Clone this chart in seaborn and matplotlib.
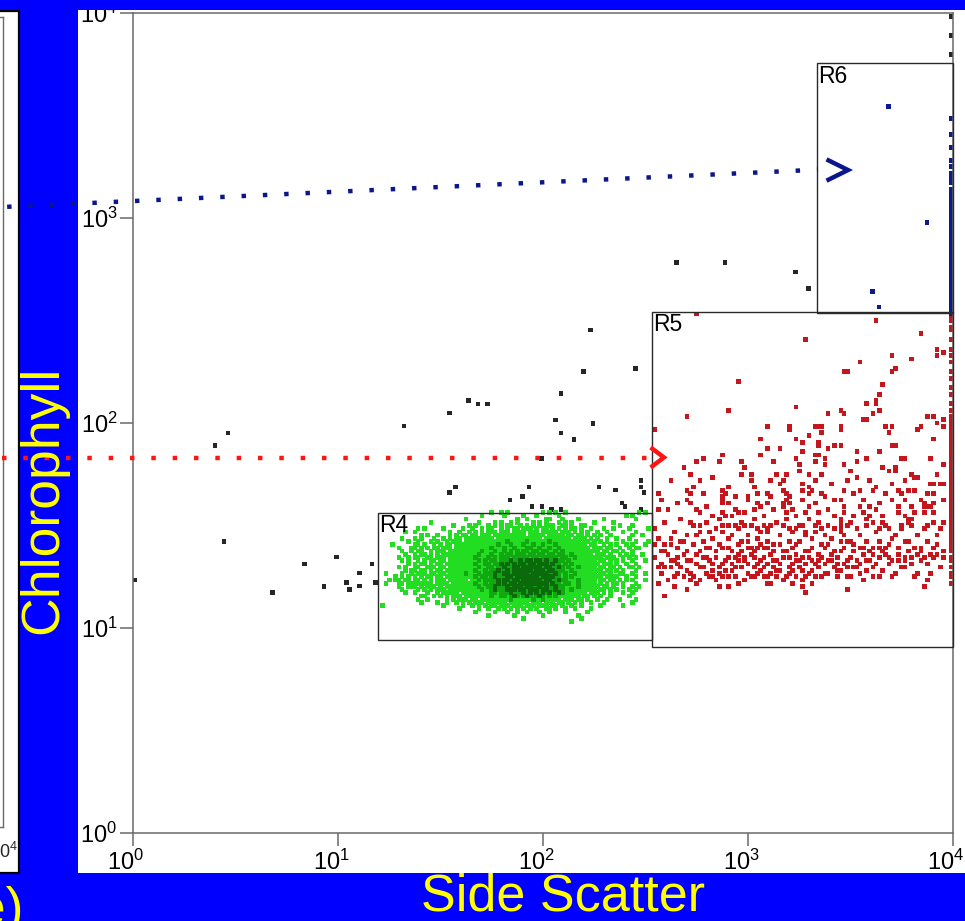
import numpy as np
import pandas as pd
import matplotlib
matplotlib.use("Agg")
import matplotlib.pyplot as plt
from matplotlib.patches import Rectangle
from matplotlib.lines import Line2D
from matplotlib.ticker import NullLocator, FixedLocator
import matplotlib.transforms as mtransforms
import seaborn as sns

sns.set_style("white")
plt.rcParams["font.family"] = ["Liberation Sans", "DejaVu Sans"]
plt.rcParams["mathtext.fontset"] = "custom"
plt.rcParams["mathtext.rm"] = "Liberation Sans"
plt.rcParams["mathtext.it"] = "Liberation Sans:italic"
plt.rcParams["mathtext.bf"] = "Liberation Sans:bold"

# ---------------- data (instrument channels: 64 channels per decade) ----------------
CH_PER_DECADE = 64
EDGE_CH = 255.4          # events piled on the last side-scatter channel

x_label = "Side Scatter"
y_label = "Chlorophyll"
panel_tag = "(e)"
tick_values = [1, 10, 100, 1000, 10000]

# gates: (ssc_min, ssc_max, chl_min, chl_max)
gate_names = ["R4", "R5", "R6"]
gate_bounds = [(15.6, 340, 8.74, 36.5), (340, 10000, 8.11, 349), (2163, 10000, 345, 5688)]

# arrows (log10 coordinates): dotted tail start/end and chevron
blue_arrow_line = [(-0.614, 3.0546), (3.3415, 3.2356)]
blue_arrow_head = [(3.383, 3.286), (3.488, 3.234), (3.383, 3.182)]
red_arrow_line = [(-0.640, 1.8293), (2.507, 1.8293)]
red_arrow_head = [(2.525, 1.881), (2.590, 1.832), (2.525, 1.783)]

# ungated (black) events: (ssc channel, chl channel)
black_ch = [(0.5, 79.0), (25.6, 120.9), (29.7, 124.9), (28.4, 90.9), (43.6, 75.0), (53.6, 84.0),
            (59.6, 76.9), (63.5, 86.2), (66.6, 78.1), (67.6, 76.0), (70.7, 81.2), (70.7, 77.1),
            (74.6, 84.0), (75.7, 78.1), (84.6, 127.1), (98.7, 131.1), (104.7, 135.0), (107.7, 133.9),
            (110.7, 133.9), (133.6, 137.1), (131.8, 128.9), (133.6, 124.9), (137.7, 122.9),
            (143.6, 127.9), (127.6, 116.9), (98.7, 106.2), (100.7, 108.0), (123.6, 108.0),
            (117.7, 104.0), (121.6, 105.0), (124.6, 101.9), (127.7, 101.9), (130.7, 100.9),
            (133.6, 100.9), (145.5, 108.0), (150.7, 107.1), (152.7, 103.0), (153.6, 101.9),
            (158.6, 110.0), (158.6, 108.0), (159.5, 106.2), (158.6, 100.9), (169.7, 178.1),
            (184.8, 178.1), (206.9, 175.1), (210.8, 170.1), (142.8, 157.0), (140.7, 144.0),
            (156.8, 145.1)]
black_edge_chl = [255, 249, 243]

# R6 (blue) events
blue_ch = [(235.9, 226.7), (247.9, 190.7), (230.9, 169.1), (232.9, 164.2)]
blue_edge_chl = [223, 218, 214, 210, 208, 206, 205, 204, 203,
                 201, 200, 199, 198, 197, 196, 195, 194, 193, 192, 191, 190, 189, 188, 187,
                 186, 185, 184, 183, 182, 181, 180, 179, 178, 177, 176, 175, 174, 173, 172,
                 171, 170, 169, 168, 167, 166, 165, 164, 163, 162]

# R5 (red) events
red_ch = [
    (176, 162), (232, 160), (246, 156), (210, 154), (251, 151), (253, 150), (251, 149), (243, 148),
    (227, 147), (237, 149), (238, 145), (237, 144), (222, 144), (223, 144), (189, 141), (234, 140),
    (233, 137), (232, 135), (232, 134), (229, 134), (207, 133), (186, 132), (221, 132), (233, 132),
    (222, 131), (217, 131), (231, 131), (173, 130), (248, 130), (250, 130), (228, 129), (229, 129),
    (253, 129), (251, 128), (163, 126),
    (198, 127), (205, 127), (205, 126), (213, 127), (214, 127), (215, 127), (221, 127), (235, 127),
    (237, 127), (245, 126), (246, 127), (253, 127), (221, 126), (215, 125), (236, 125), (211, 124),
    (196, 123), (207, 123), (250, 123), (209, 122), (214, 122), (214, 121), (219, 121), (221, 121),
    (237, 121), (238, 121), (198, 120), (202, 120), (217, 120),
    (184, 118), (190, 116), (196, 118), (207, 117), (209, 119), (213, 118), (214, 118), (226, 119),
    (233, 119), (240, 117), (241, 117), (249, 117), (253, 115), (178, 117), (176, 116), (213, 116),
    (216, 115), (222, 115), (226, 116), (238, 114),
    (174, 112), (190, 112), (193, 112), (201, 112), (204, 112), (208, 113), (211, 112), (215, 112),
    (224, 113), (226, 111), (230, 110), (236, 113), (238, 113), (245, 111), (249, 109),
    (177, 110), (193, 110), (199, 110), (202, 109), (209, 109), (213, 110), (218, 109), (237, 109),
    (241, 110), (244, 111), (250, 109), (252, 109), (253, 109),
    (164, 106), (173, 107), (174, 106), (178, 106), (184, 107), (184, 105), (185, 106), (188, 105),
    (192, 105), (195, 106), (198, 106), (199, 105), (203, 107), (204, 106), (205, 105), (209, 107),
    (211, 106), (212, 107), (215, 106), (216, 105), (222, 107), (225, 106), (227, 107), (231, 107),
    (235, 106), (239, 107), (240, 106), (242, 107), (244, 107), (248, 106), (250, 106),
    (173, 104), (174, 103), (184, 104), (184, 103), (186, 103), (192, 104), (195, 103), (198, 103),
    (203, 103), (204, 104), (205, 103), (209, 104), (211, 102), (213, 103), (221, 104), (222, 102),
    (228, 104), (230, 102), (233, 103), (237, 104), (241, 104), (243, 102), (247, 103), (248, 102),
    (250, 103),
    (164, 101), (167, 101), (176, 101), (177, 100), (181, 99), (184, 100), (185, 99), (187, 99),
    (189, 100), (191, 100), (194, 101), (197, 99), (200, 101), (203, 102), (204, 100), (207, 99),
    (210, 100), (211, 98), (214, 100), (217, 101), (219, 99), (221, 98), (222, 100), (225, 99),
    (228, 100), (230, 99), (232, 101), (234, 99), (239, 100), (241, 99), (242, 98), (244, 100),
    (247, 102), (247, 100), (249, 102), (250, 100),
    (174, 97), (177, 96), (182, 95), (184, 96), (186, 96), (188, 96), (190, 97), (191, 96),
    (193, 96), (195, 95), (197, 96), (198, 94), (198, 95), (201, 97), (203, 96), (205, 95),
    (207, 95), (208, 96), (210, 94), (213, 96), (215, 95), (217, 96), (221, 97), (221, 96),
    (221, 95), (221, 94), (223, 96), (226, 95), (229, 96), (231, 97), (233, 95), (235, 96),
    (236, 95), (240, 96), (242, 97), (243, 98), (243, 96), (247, 95), (250, 97), (252, 95),
    (164, 92), (168, 92), (165, 88), (166, 88), (176, 93), (177, 94), (181, 92), (184, 94),
    (184, 89), (186, 92), (189, 90), (190, 91), (193, 89), (195, 92), (196, 90), (198, 91),
    (198, 89), (202, 90), (205, 91), (206, 89), (208, 91), (210, 93), (213, 94), (215, 90),
    (217, 90), (218, 92), (221, 91), (223, 91), (225, 90), (229, 91), (231, 89), (233, 91),
    (235, 89), (237, 92), (241, 91), (244, 89), (248, 91), (250, 89), (253, 88),
    (168, 85), (169, 85), (172, 87), (174, 85), (176, 87), (177, 88), (179, 86), (180, 85),
    (182, 86), (183, 83), (184, 84), (186, 86), (188, 86), (190, 88), (191, 86), (193, 87),
    (195, 84), (197, 86), (199, 87), (201, 85), (203, 86), (205, 86), (207, 85), (209, 86),
    (211, 86), (213, 84), (215, 86), (217, 85), (220, 86), (222, 84), (224, 86), (226, 85),
    (228, 87), (231, 87), (233, 86), (235, 87), (237, 85), (241, 86), (245, 87), (247, 86),
    (249, 87), (253, 86),
    (164, 83), (166, 83), (168, 83), (169, 80), (171, 83), (173, 82), (175, 80), (177, 83),
    (179, 81), (181, 82), (183, 81), (186, 80), (187, 82), (190, 83), (192, 81), (194, 83),
    (196, 82), (198, 80), (200, 83), (202, 82), (204, 80), (206, 82), (208, 83), (210, 80),
    (212, 82), (215, 80), (219, 83), (221, 82), (223, 83), (225, 83), (227, 81), (229, 82),
    (231, 83), (241, 85), (241, 83),
    (166, 90), (170, 89), (172, 91), (175, 90), (178, 91), (180, 89), (183, 90), (187, 88),
    (189, 87), (192, 89), (194, 88), (197, 89), (200, 88), (204, 88), (207, 87), (210, 88),
    (212, 89), (214, 87), (216, 89), (219, 88), (222, 89), (225, 88), (227, 89), (230, 88),
    (234, 88), (236, 90), (239, 89), (242, 88), (246, 89), (251, 90),
    (163, 86), (167, 87), (170, 84), (173, 85), (176, 84), (178, 83), (181, 84), (185, 85),
    (187, 84), (189, 85), (192, 84), (194, 86), (196, 85), (198, 84), (200, 85), (202, 84),
    (206, 84), (208, 85), (210, 84), (212, 85), (214, 83), (216, 84), (218, 85), (220, 84),
    (223, 85), (227, 84), (230, 85), (232, 84), (236, 84), (239, 85), (243, 84), (246, 85),
    (250, 86),
    (165, 81), (167, 79), (170, 81), (172, 80), (174, 79), (177, 79), (180, 80), (182, 79),
    (184, 80), (188, 80), (191, 79), (193, 80), (195, 81), (197, 80), (199, 81), (201, 80),
    (203, 79), (205, 81), (207, 80), (209, 79), (211, 81), (213, 80), (217, 81), (220, 80),
    (224, 80), (228, 79), (233, 80), (238, 81), (244, 80), (248, 79),
    (166, 74), (173, 76), (186, 77), (198, 78), (209, 77), (210, 75), (223, 76), (247, 77),
    # additional events in the populated lower part of R5
    (163, 95), (166, 97), (169, 94), (171, 98), (173, 93), (175, 96), (179, 97), (180, 94),
    (183, 98), (187, 93), (189, 95), (192, 93), (194, 98), (196, 94), (199, 96), (202, 93),
    (204, 98), (206, 94), (209, 96), (212, 92), (214, 97), (216, 93), (219, 95), (222, 93),
    (224, 97), (227, 93), (229, 98), (232, 94), (234, 97), (238, 93), (240, 95), (245, 93),
    (248, 96), (251, 93), (253, 97),
    (163, 90), (164, 78), (165, 84), (168, 90), (169, 77), (170, 86), (171, 91), (173, 88),
    (174, 81), (176, 78), (178, 86), (179, 89), (181, 80), (182, 88), (183, 77), (185, 82),
    (186, 89), (188, 83), (189, 78), (191, 85), (192, 91), (194, 80), (195, 89), (197, 83),
    (199, 78), (200, 90), (201, 82), (203, 88), (205, 83), (206, 78), (207, 90), (209, 82),
    (211, 88), (212, 78), (214, 85), (216, 81), (217, 90), (218, 87), (220, 82), (221, 88),
    (223, 80), (224, 91), (226, 83), (228, 89), (229, 85), (231, 80), (233, 89), (234, 82),
    (236, 86), (237, 80), (239, 87), (240, 83), (242, 91), (243, 86), (245, 81), (246, 88),
    (248, 84), (249, 81), (251, 87), (252, 83),
    (165, 104), (168, 110), (170, 103), (172, 114), (175, 108), (179, 102), (181, 111),
    (183, 116), (186, 108), (188, 101), (191, 114), (194, 108), (196, 102), (200, 116),
    (203, 110), (206, 101), (208, 115), (211, 108), (216, 117), (219, 104), (223, 110),
    (227, 102), (229, 117), (232, 108), (234, 114), (239, 102), (243, 112), (246, 104),
    (251, 112), (253, 104),
]
red_edge_chl = [161, 160, 158, 157, 154, 151, 149, 147, 144, 142, 139, 137, 134, 132,
                130, 129, 128, 127, 126, 125, 124, 123, 122, 121, 120, 119, 118, 117, 116,
                115, 114, 113, 112, 111, 110, 109, 108, 107, 106, 105, 104, 103, 102, 101,
                100, 99, 98, 97, 96, 95, 94, 93, 92, 91, 90, 89, 88,
                86, 85, 83, 81, 80, 78]

# R4 (green) events as a channel dot map: one row per chl channel (from GREEN_TOP down),
# one character per ssc channel (from GREEN_X0); g = single event, m/d = denser pile-up
GREEN_X0 = 78
GREEN_TOP = 100
green_rows = [
    "..... ..... ... ..... ..... ..... ..... .g..g .g... ..... ..g.g .g..g ..... ..... ..... ..... .. g.g..",
    "..... ..... ... ..... ..... ..... ...g. ..... g.... .g... g.... ..g.. ..... ..... ..... ...g. g. .....",
    "..... ..... ... ..... ..... ...g. ..... ..... ....g ..g.. ...gg ...g. ...g. ..... .g... ..... .g .....",
    "..... ..... ... ..g.. ..... ..... ..g.. ..g.g ..g.g ....g .g.g. ..g.g .g... ...g. ....g ..... .. .....",
    "..... ..... ... ..... ....g ....g .g... g.g.g .gg.. g.g.g .g.gg g..gg .g..g g.... ..... .g... g. .....",
    "..... ..... .g. g.... .g... ..g.. g..g. gg..g .g.gg .ggg. g.gg. g.g.g .gg.g ..g.. .g..g ....g .. ...g.",
    "..... ..g.. g.. ..... ...g. .g..g .g.g. ggg.g gg.gg gg.gg g.ggg gg.gg g.g.g .g..g ..g.. ..g.. .g .....",
    "..... ..... ..g .g..g ...g. g.gg. gg.gg g.ggg ggggg gg.gg ggg.g gggg. gg.gg .g.g. g..g. ..... g. .g...",
    "..... .g... g.g ...g. .g.g. gg.gg ggggg gg.gg ggggg ggggg gg.gg ggggg g.ggg g.g.g ..g.. g...g .. .....",
    "..... ...g. .g. ..g.g ..g.g gg.gg ggggg ggggg gmggg ggmgg ggggm ggggg gggg. gg.g. g.g.. ..g.. .g ...g.",
    "...g. ..... gg. g..g. g.gg. ggggg ggggg gggmg ggmgg gmggm ggmgg gmggg ggggg g.gg. .g.g. g..g. g. ..g..",
    "..... g...g g.g .g.gg .ggg. ggggg ggggg gmggg mggmg ggmmg gmggm ggmgg ggggg gg.gg g.gg. .g..g .g g....",
    "..... .g..g .gg ..g.g gg.gg ggggg gggmg ggmgg mgmgm gmmgm mgmmg gmgmg ggggg ggggg .gg.g g.g.. g. .....",
    "..... ..g.. g.g g.g.g .gggg ggggg ggmgg gmggm gmmgm mmgmm gmmgm mgmmg gmggg ggg.g gg.g. .g.g. g. .g...",
    "..... g..g. gg. .gg.g gg.gg ggggg gmggg mgmgm mmgmm mmmgm mgmmm mmgmm ggmgg ggggg g.ggg ..g.g .g .....",
    "..... .g.g. .g. g.gg. gg.gg ggggg ggmgm gmmgm mmdmm dmddm ddmdm mdmmg mgggg gggg. gg.g. g.g.. g. ..g..",
    "..... ...g. g.g g.g.g g.ggg ggggg gmggm mgmmd mdmdm ddmdd mdddm dmmgm gmggg ggggg .ggg. g..g. .g .....",
    "..... g.g.. gg. .ggg. gg.gg ggggg ggmgg mmgmm dmmdd mdddd ddmdd mmdmg mggmg gggg. gg.gg .g..g g. g....",
    "..... ..g.g g.g g.g.g g.ggg ggggg gmggm gmmdm mdmdd ddddm dddmd dmmmg gmggg ggggg g.gg. g.g.. .g .....",
    ".g... .g..g .gg g.gg. gg.gg gggmg ggmgm mmdmm ddmdd dddmd ddddm mdmgm ggmgg gggg. gg.g. .gg.. g. ..g..",
    "....g .g.g. g.g .gg.g g.ggg ggggg gmgmm gmdmm mddmd ddddd dmddd dmmgm gmggg ggggg g.ggg g..g. .g .....",
    "..g.g g.gg. gg. g.g.g gg.gg gggg. ggmgm mmmdm ddmdd mdddd ddmdd mmdmm gggmg gggg. gg.gg .g.g. g. ..g..",
    ".g... gg.gg ggg ggg.g ggg.g ggggg gmggm gmmdm dmddm ddddd ddddm dmmgm mggmg gggg. g.g.g g.g.. .g .....",
    "..... g..gg g.g .ggg. g.ggg ggggg ggmgg mmdmm mdmdd dmddm mdmdm mdmmg gggmg ggggg .gg.g ..g.. g. g....",
    "..... .g... .g. g.g.g gg.gg ggggg gggmg gmdmm mdddm ddmdd dmddm mdmmg gmggg gggg. gg.g. g...g .g .....",
    "..... ..g.. g.. .g..g .gggg g.ggg ggggg gmmgm mmdmm mdmdm dmdmd gmdmg ggggg g.ggg .g.g. ..g.. g. .....",
    "..... ..... ..g g..g. g.g.g gg.gg ggggg gmggm mgmdm gmdmg mdmgm gmggg gggg. gg.g. g..g. ....g .. .....",
    "..... ..... .g. .g... ..g.g .ggg. gg.gg ggggg ggmgg ggggm ggmgg ggg.g gg.gg .g..g ..g.. .g... .g .....",
    "..... ..... ..g ....g ..g.. g.g.g .ggg. ggggg g.ggg ggg.g gg.gg g.gg. g.g.g ..g.. .g... ..... g. .....",
    "g.... ..... ... ..... .g... ..g.. g.g.g .gg.g gg.gg g.ggg .ggg. gg.g. .g..g ..... g.... ..g.. .. .....",
    "..... ..... ... ..... ..... .g... ..g.. g..g. g.g.g .g.g. g..gg .g..g ..g.. ..g.. ..... ..... .. .....",
    "..... ..... ... ..... ..... ..... .g... ..g.. .g..g ..g.. .g..g ....g ..... .g... ..... ..... .. .....",
    "..... ..... ... ..... ..... ..... ..... g.... ...g. ..... ..g.. ..... ...g. ..... ..... ..... .. .....",
    "..... ..... ... ..... ..... ..... ..... ..... ..... .g... ..... ..... ....g ..... ..... ..... .. .....",
    "..... ..... ... ..... ..... ..... ..... ..... ..... ..... ..... ..... .g... ..... ..... ..... .. .....",
]

palette = {"black": "#262626", "red": "#c4161c", "blue": "#0b1a8e",
           "g": "#22dd22", "m": "#12a812", "d": "#0b6a0b"}

# ---------------- assemble events ----------------
def ch2val(ch):
    return 10.0 ** (np.asarray(ch, dtype=float) / CH_PER_DECADE)

rows = []
rows += [(a, b, "black") for a, b in black_ch]
rows += [(EDGE_CH, b, "black") for b in black_edge_chl]
rows += [(a, b, "red") for a, b in red_ch]
rows += [(EDGE_CH, b, "red") for b in red_edge_chl]
rows += [(a, b, "blue") for a, b in blue_ch]
rows += [(EDGE_CH, b, "blue") for b in blue_edge_chl]
green = []
for r, line in enumerate(green_rows):
    for i, c in enumerate(line.replace(" ", "")):
        if c != ".":
            green.append((GREEN_X0 + i, GREEN_TOP - r, c))
order = {"g": 0, "m": 1, "d": 2}
green.sort(key=lambda t: order[t[2]])
rows += green

df = pd.DataFrame(rows, columns=["ssc_ch", "chl_ch", "pop"])
df["ssc"] = ch2val(df["ssc_ch"])
df["chl"] = ch2val(df["chl_ch"])

# ---------------- figure ----------------
W, H = 965, 921
fig = plt.figure(figsize=(W / 100, H / 100), dpi=100, facecolor="#0000ff")

def fx(px):
    return px / W

def fy(py):
    return 1 - py / H

# white panels (main and the neighbouring panel on the left)
fig.add_artist(Rectangle((fx(78), fy(873)), fx(W - 78 + 10), (873 - 10) / H,
                         transform=fig.transFigure, facecolor="white", edgecolor="none", zorder=-2))
fig.add_artist(Rectangle((fx(-10), fy(873)), fx(29), (873 - 11) / H,
                         transform=fig.transFigure, facecolor="white", edgecolor="black",
                         linewidth=1.6, zorder=-2))

# neighbouring panel's axes (only its right/bottom corner is visible)
axl = fig.add_axes([fx(3.3) - 0.8, fy(827), 0.8, (827 - 17) / H])
axl.set_xscale("log")
axl.set_yscale("log")
axl.set_xlim(1, 1e4)
axl.set_ylim(1, 1e4)
axl.patch.set_visible(False)
axl.spines["left"].set_visible(False)
for s in ["right", "bottom", "top"]:
    axl.spines[s].set_color("#6a6a6a")
    axl.spines[s].set_linewidth(1.0)
axl.xaxis.set_major_locator(FixedLocator([1e4]))
axl.xaxis.set_minor_locator(NullLocator())
axl.yaxis.set_major_locator(FixedLocator([]))
axl.yaxis.set_minor_locator(NullLocator())
axl.tick_params(axis="x", direction="out", length=9, width=1.0, color="#6a6a6a",
                labelsize=13, pad=2)

# main axes
ax = fig.add_axes([fx(133), fy(833), 820 / W, 820 / H])
ax.set_xscale("log")
ax.set_yscale("log")
sns.scatterplot(data=df, x="ssc", y="chl", hue="pop", palette=palette, marker="s",
                s=11.5, linewidth=0, legend=False, ax=ax, zorder=2)
ax.set_xlim(1, 1e4)
ax.set_ylim(1, 1e4)
ax.set_xlabel("")
ax.set_ylabel("")
ax.set_facecolor("white")
ax.grid(False)
for s in ax.spines.values():
    s.set_color("#6a6a6a")
    s.set_linewidth(1.1)
    s.set_visible(True)
ax.set_xticks(tick_values)
ax.set_yticks(tick_values)
ax.xaxis.set_minor_locator(NullLocator())
ax.yaxis.set_minor_locator(NullLocator())
ax.tick_params(axis="both", which="major", direction="out", length=9.2, width=1.1,
               color="#6a6a6a", labelsize=17, labelcolor="black", bottom=True, left=True)
ax.tick_params(axis="y", pad=2.0)
ax.tick_params(axis="x", pad=3.0)
shift = mtransforms.ScaledTranslation(-7 / 100, 0, fig.dpi_scale_trans)
for t in ax.xaxis.get_major_ticks():
    t.label1.set_transform(t.label1.get_transform() + shift)

# gates
for name, (x0, x1, y0, y1) in zip(gate_names, gate_bounds):
    ax.add_patch(Rectangle((x0, y0), x1 - x0, y1 - y0, fill=False, edgecolor="#2a2a2a",
                           linewidth=1.0, zorder=3, clip_on=False))
    ax.annotate(name, xy=(x0, y1), xytext=(1.2, -1.2), textcoords="offset points",
                ha="left", va="top", fontsize=16.5, color="black", zorder=4)

# dotted arrows linking from the neighbouring panel
def add_arrow(line_pts, head_pts, color):
    lx = [10 ** p[0] for p in line_pts]
    ly = [10 ** p[1] for p in line_pts]
    ln = Line2D(lx, ly, color=color, linewidth=3.2, linestyle=(0, (1, 3.8)),
                dash_capstyle="butt", clip_on=False, zorder=6)
    ax.add_line(ln)
    hx = [10 ** p[0] for p in head_pts]
    hy = [10 ** p[1] for p in head_pts]
    hd = Line2D(hx, hy, color=color, linewidth=3.2, solid_capstyle="butt",
                solid_joinstyle="miter", clip_on=False, zorder=6)
    ax.add_line(hd)

add_arrow(blue_arrow_line, blue_arrow_head, "#0a168c")
add_arrow(red_arrow_line, red_arrow_head, "#ff1414")

# axis titles in yellow on the blue slide background
fig.text(fx(563), fy(910), x_label, ha="center", va="baseline", fontsize=37.5, color="#ffff00")
fig.text(fx(43), fy(500), y_label, rotation=90, ha="center", va="center",
         fontsize=38.5, color="#ffff00")
fig.text(fx(24), fy(925), panel_tag, ha="right", va="baseline", fontsize=38.5, color="#ffff00")

# blue band along the top edge
fig.add_artist(Rectangle((0, fy(10)), 1, 10 / H, transform=fig.transFigure,
                         facecolor="#0000ff", edgecolor="none", zorder=10))

fig.savefig("out.png", dpi=100, facecolor=fig.get_facecolor())
